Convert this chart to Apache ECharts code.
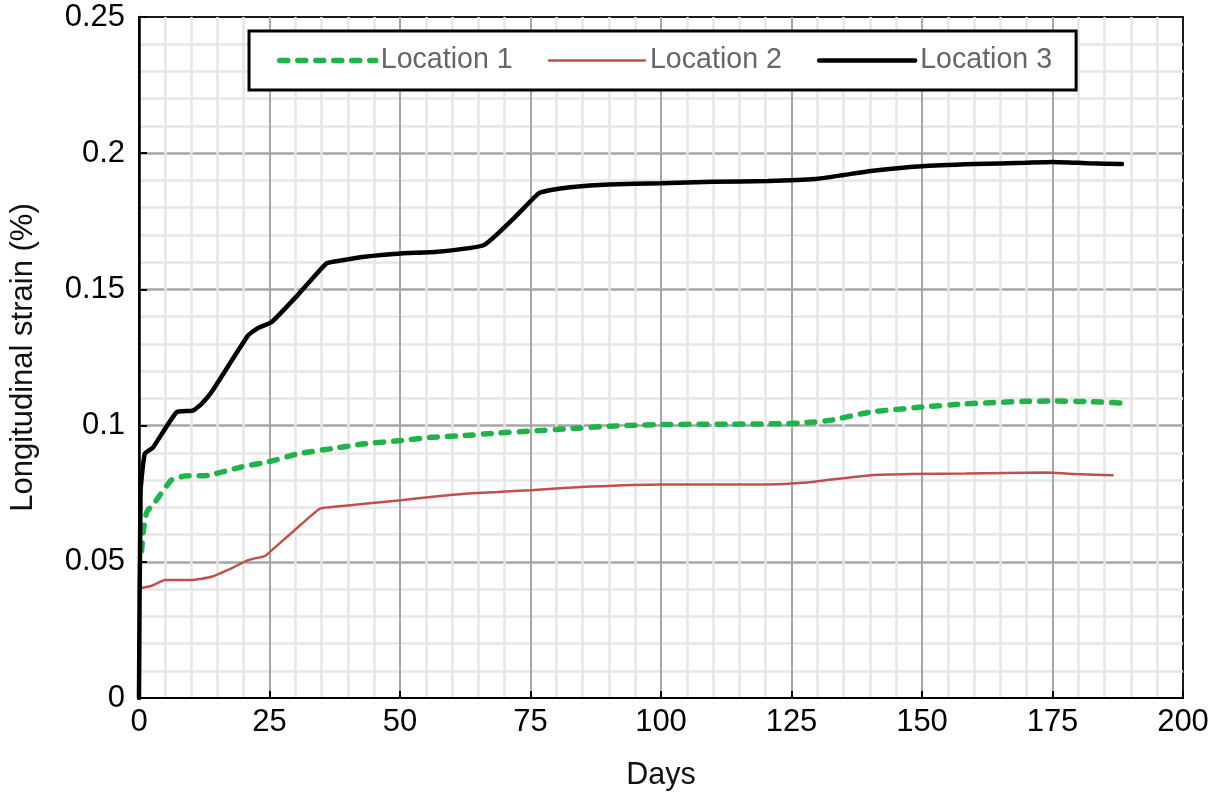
<!DOCTYPE html>
<html>
<head>
<meta charset="utf-8">
<script src="https://cdn.jsdelivr.net/npm/echarts@6/dist/echarts.min.js"></script>
<style>
html,body{margin:0;padding:0;background:#fff;}
#chart{width:1213px;height:796px;}
</style>
</head>
<body>
<div id="chart"></div>
<script>
// Location 1 (green dashed)
const days1 = [0.5, 0.8, 1.5, 3.1, 6.2, 8.8, 13.2, 19.6, 25, 30.4, 36.8, 43.2, 50.2, 55.9, 62.3, 68.7, 75, 82.6, 90.2, 100, 112.9, 123.5, 128, 132.6, 140.2, 150, 158.3, 169.7, 175, 182, 188.3];
const vals1 = [0.054, 0.061, 0.0683, 0.072, 0.080, 0.0815, 0.0817, 0.0848, 0.0868, 0.0896, 0.0915, 0.0933, 0.0945, 0.0957, 0.0963, 0.0973, 0.098, 0.0989, 0.0998, 0.1004, 0.1005, 0.1007, 0.1011, 0.102, 0.105, 0.1068, 0.108, 0.1089, 0.109, 0.1088, 0.1083];
// Location 2 (red)
const days2 = [0, 2.4, 5, 10.1, 13.9, 17.7, 20.9, 24.1, 24.7, 29.8, 34.6, 36.8, 43.2, 50.2, 55.9, 62.3, 68.7, 75, 86.4, 100, 120.5, 128, 132.6, 140.2, 147.7, 158.3, 173.5, 179.5, 186.7];
const vals2 = [0.0402, 0.0412, 0.0433, 0.0433, 0.0445, 0.0476, 0.0506, 0.0521, 0.053, 0.0616, 0.0695, 0.0701, 0.0713, 0.0726, 0.0738, 0.075, 0.0756, 0.0763, 0.0776, 0.0784, 0.0784, 0.0791, 0.0802, 0.0818, 0.0822, 0.0824, 0.0828, 0.0822, 0.0818];
// Location 3 (black)
const days3 = [0, 0.3, 1.1, 2.7, 7.2, 10.3, 12, 13.9, 20.9, 22.8, 25.4, 30.4, 35.9, 38.1, 43.2, 50.2, 57.2, 66.1, 71.8, 76.6, 78.9, 82.6, 90, 100, 110, 120.5, 129.5, 135, 140.2, 150, 160, 169.7, 175, 182, 188.3];
const vals3 = [0, 0.0756, 0.0896, 0.092, 0.1049, 0.1055, 0.108, 0.1123, 0.1331, 0.1358, 0.138, 0.1479, 0.1595, 0.1604, 0.162, 0.1632, 0.1638, 0.1663, 0.1761, 0.1853, 0.1865, 0.1875, 0.1885, 0.189, 0.1895, 0.1898, 0.1905, 0.192, 0.1935, 0.1952, 0.196, 0.1965, 0.1968, 0.1963, 0.196];

const seriesNames = ['Location 1', 'Location 2', 'Location 3'];
const xTicks = {min: 0, max: 200, interval: 25};
const yTicks = {min: 0, max: 0.25, interval: 0.05};

function pairs(xs, ys) { return xs.map((x, i) => [x, ys[i]]); }

const FONT = 'Liberation Sans, Arial, sans-serif';
const chart = echarts.init(document.getElementById('chart'), null, {renderer: 'canvas'});
chart.setOption({
  animation: false,
  backgroundColor: '#ffffff',
  grid: {
    left: 137, right: 30, top: 17, bottom: 96,
    show: true, backgroundColor: '#ffffff', borderColor: '#1a1a1a', borderWidth: 2
  },
  legend: {
    left: 249, top: 31,
    padding: [15, 24, 15, 28],
    borderColor: '#000', borderWidth: 3, backgroundColor: '#fff',
    itemWidth: 96, itemHeight: 14, itemGap: 35,
    textStyle: {fontFamily: FONT, fontSize: 28.6, color: '#666666'},
    itemStyle: {color: 'rgba(0,0,0,0)', borderColor: 'rgba(0,0,0,0)', borderWidth: 0, opacity: 0},
    lineStyle: {width: 'inherit', type: 'inherit', cap: 'round'},
    data: seriesNames
  },
  xAxis: {
    type: 'value', z: 1,
    min: xTicks.min, max: xTicks.max, interval: xTicks.interval,
    name: 'Days', nameLocation: 'middle', nameGap: 62,
    nameTextStyle: {fontFamily: FONT, fontSize: 30.5, color: '#111'},
    axisLine: {show: true, onZero: false, lineStyle: {color: '#000', width: 2}},
    axisTick: {show: true, inside: true, length: 7, lineStyle: {color: '#000', width: 2}},
    axisLabel: {fontFamily: FONT, fontSize: 31, color: '#000', margin: 9},
    splitLine: {show: true, showMinLine: false, showMaxLine: false, lineStyle: {color: '#a6a6a6', width: 2}},
    minorTick: {show: false, splitNumber: 5},
    minorSplitLine: {show: true, lineStyle: {color: '#e6e6e6', width: 2.5}}
  },
  yAxis: {
    type: 'value', z: 0,
    min: yTicks.min, max: yTicks.max, interval: yTicks.interval,
    name: 'Longitudinal strain (%)', nameLocation: 'middle', nameGap: 100,
    nameTextStyle: {fontFamily: FONT, fontSize: 31, color: '#111'},
    axisLine: {show: true, onZero: false, lineStyle: {color: '#000', width: 2.5}},
    axisTick: {show: true, inside: true, length: 8, lineStyle: {color: '#000', width: 2}},
    axisLabel: {fontFamily: FONT, fontSize: 31, color: '#000', margin: 14},
    splitLine: {show: true, showMinLine: false, showMaxLine: false, lineStyle: {color: '#a6a6a6', width: 2.5}},
    minorTick: {show: false, splitNumber: 5},
    minorSplitLine: {show: true, lineStyle: {color: '#e6e6e6', width: 2.5}}
  },
  series: [
    {
      name: seriesNames[0], type: 'line', showSymbol: false, symbol: 'none', smooth: 0.15,
      data: pairs(days1, vals1), z: 4,
      itemStyle: {color: '#22b24c'},
      lineStyle: {color: '#22b24c', width: 5.5, type: [8, 10], cap: 'round'}
    },
    {
      name: seriesNames[1], type: 'line', showSymbol: false, symbol: 'none', smooth: 0.15,
      data: pairs(days2, vals2), z: 3,
      itemStyle: {color: '#c0504d'},
      lineStyle: {color: '#c0504d', width: 2.5}
    },
    {
      name: seriesNames[2], type: 'line', showSymbol: false, symbol: 'none', smooth: 0.15,
      data: pairs(days3, vals3), z: 5,
      itemStyle: {color: '#000'},
      lineStyle: {color: '#000', width: 4.5, cap: 'round'}
    }
  ]
});
</script>
</body>
</html>
